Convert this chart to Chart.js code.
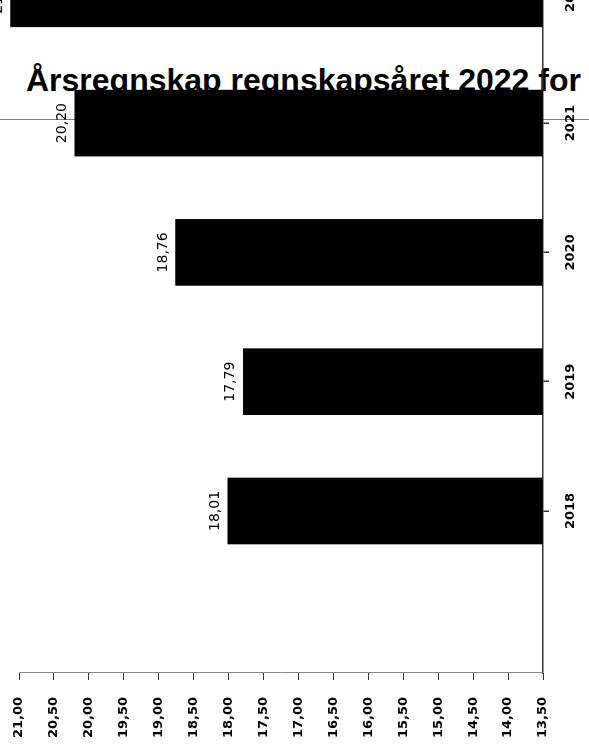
<!DOCTYPE html>
<html>
<head>
<meta charset="utf-8">
<script src="https://cdn.jsdelivr.net/npm/chart.js@4.4.0/dist/chart.umd.min.js"></script>
<style>
  html, body { margin: 0; padding: 0; background: #fff; overflow: hidden; }
  body { width: 589px; height: 751px; position: relative; }
  #title {
    position: absolute; left: 26px; top: 64px; z-index: 0;
    font: bold 32px "Liberation Sans", Arial, sans-serif; line-height: 32px;
    white-space: nowrap; color: #000;
  }
  #rule { position: absolute; left: 0; top: 119px; width: 589px; height: 1px; background: #808080; z-index: 0; }
  /* the column chart is drawn upright, then turned a quarter left */
  #wrap {
    position: absolute; left: 0; top: 0; width: 811px; height: 589px; z-index: 1;
    transform-origin: 0 0; transform: translate(0, 751px) rotate(-90deg);
  }
</style>
</head>
<body>
<div id="title">Årsregnskap regnskapsåret 2022 for</div>
<div id="rule"></div>
<div id="wrap"><canvas id="chart" width="811" height="589"></canvas></div>
<script>
const years = ['2018', '2019', '2020', '2021', '2022'];
const values = [18.01, 17.79, 18.76, 20.20, 21.12];
const valueTicks = [13.5, 14, 14.5, 15, 15.5, 16, 16.5, 17, 17.5, 18, 18.5, 19, 19.5, 20, 20.5, 21];

const fmt = v => v.toFixed(2).replace('.', ',');
const tickFont = { family: 'DejaVu Sans', size: 13, weight: 'bold' };

// value printed just above each column
const barLabels = {
  id: 'barLabels',
  afterDatasetsDraw(chart) {
    const ctx = chart.ctx;
    ctx.save();
    ctx.font = '14px "DejaVu Sans"';
    ctx.fillStyle = '#000';
    ctx.textAlign = 'center';
    ctx.textBaseline = 'alphabetic';
    chart.getDatasetMeta(0).data.forEach((bar, i) => {
      ctx.fillText(fmt(values[i]), bar.x, bar.y - 9);
    });
    ctx.restore();
  }
};

new Chart(document.getElementById('chart'), {
  type: 'bar',
  data: {
    datasets: [{
      data: years.map((_, i) => ({ x: i, y: values[i] })),
      base: 13.5,
      backgroundColor: '#000',
      borderWidth: 0,
      barThickness: 66,
      clip: false
    }]
  },
  options: {
    responsive: false,
    animation: false,
    layout: { padding: { top: 19, left: 0, right: 0, bottom: 0 } },
    plugins: { legend: { display: false }, tooltip: { enabled: false } },
    scales: {
      x: {
        type: 'linear',
        offset: false,
        min: -1.253,
        max: 4.416,
        afterBuildTicks: s => { s.ticks = years.map((_, i) => ({ value: i })); },
        afterFit: s => { s.height = 46; },
        ticks: { callback: v => years[v], font: tickFont, color: '#000', padding: 14, maxRotation: 0, autoSkip: false },
        grid: { offset: false, drawOnChartArea: false, tickLength: 6, color: '#333', lineWidth: 1.5 },
        border: { color: '#333', width: 1.5 }
      },
      y: {
        min: 13.5,
        max: 21,
        afterBuildTicks: s => { s.ticks = valueTicks.map(v => ({ value: v })); },
        // fixed width; end labels may overhang the plot
        afterFit: s => { s.width = 78; s.paddingTop = 0; s.paddingBottom = 0; },
        ticks: { callback: v => fmt(v), font: tickFont, color: '#000', padding: 17, autoSkip: false },
        grid: { drawOnChartArea: false, tickLength: 7, color: '#333' },
        border: { color: '#888', width: 1 }
      }
    }
  },
  plugins: [barLabels]
});
</script>
</body>
</html>
